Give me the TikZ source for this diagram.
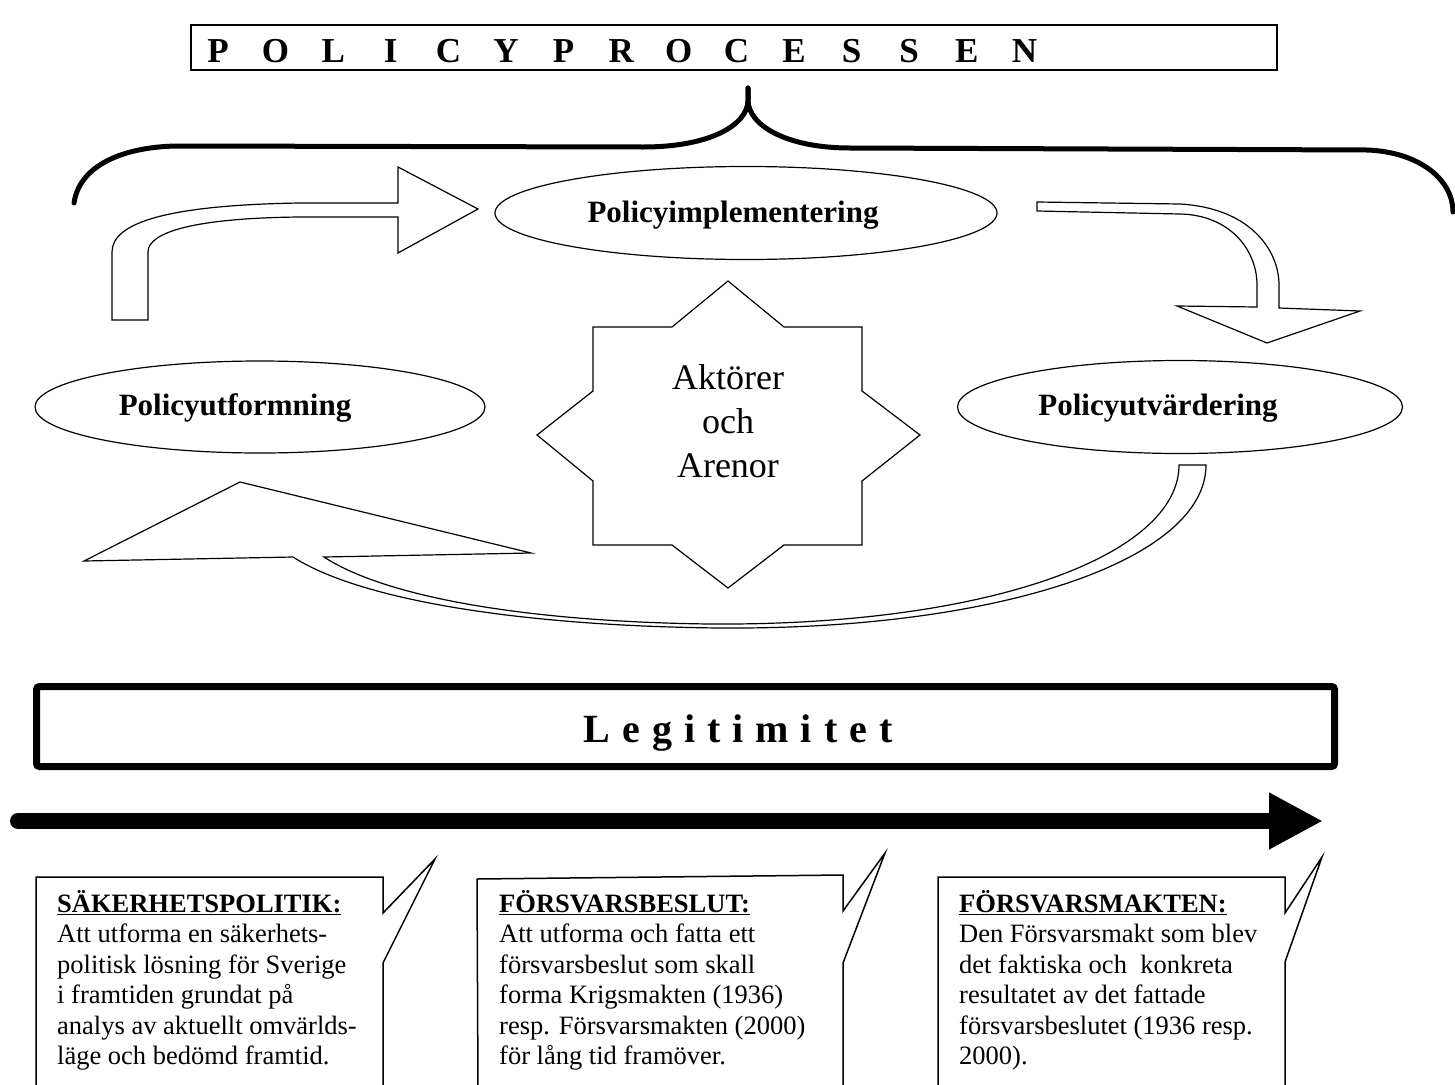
\documentclass[tikz,border=0pt]{standalone}
\usepackage{fontspec}
\setmainfont{Liberation Serif}
\usetikzlibrary{arrows.meta,shapes.geometric}

\tikzset{
  oval/.style={draw, ellipse, line width=1.2pt, inner sep=0pt},
  ovaltext/.style={font=\bfseries\fontsize{31}{31}\selectfont, anchor=base, inner sep=0pt},
  blockarrow/.style={draw, line width=1.2pt, fill=white, line join=miter},
  bubble/.style={draw, line width=1.5pt, line join=miter},
  bubbletext/.style={font=\fontsize{26.5}{30.5}\selectfont, align=left, anchor=base west, inner sep=0pt},
  brace/.style={line width=5pt, line cap=round},
}

\begin{document}
\begin{tikzpicture}[x=1pt, y=-1pt]
\useasboundingbox (0,0) rectangle (1455,1084);

\node[draw, line width=2pt, minimum width=1086pt, minimum height=45pt, inner sep=0pt] (title) at (734,47.5) {};
\foreach \ch [count=\k from 0] in {P,O,L,I,C,Y,P,R,O,C,E,S,S,E,N}
  \node[font=\bfseries\fontsize{35}{35}\selectfont, anchor=base, inner sep=0pt] (t\k) at (218+57.6*\k, 62) {\ch};

\coordinate (bl) at (74,203);
\coordinate (bm) at (748,88);
\coordinate (br) at (1453,212);
\draw[brace] (bl) .. controls (80,162) and (130,146) .. (180,146) -- (643,147) .. controls (710,147) and (748,125) .. (748,100) -- (bm);
\draw[brace] (bm) -- (748,100) .. controls (748,125) and (786,148) .. (850,148) -- (1367,150) .. controls (1420,152) and (1453,180) .. (br);

\node[oval, minimum width=502pt, minimum height=93pt] (impl) at (746,213) {};
\node[ovaltext] (implt) at (733,222) {Policyimplementering};
\node[oval, minimum width=450pt, minimum height=92pt] (form) at (260,407) {};
\node[ovaltext] (formt) at (235,415) {Policyutformning};
\node[oval, minimum width=445pt, minimum height=93pt] (eval) at (1180,407) {};
\node[ovaltext] (evalt) at (1158,415) {Policyutvärdering};

\draw[blockarrow] (112,320) -- (112,252) .. controls (112,222) and (170,205) .. (300,203) -- (398,203) -- (398,167) -- (478,209) -- (398,253) -- (398,217) -- (300,217) .. controls (195,218) and (148,232) .. (148,252) -- (148,320) -- cycle;
\draw[blockarrow] (1037,202) -- (1180,204) .. controls (1250,208) and (1279,250) .. (1279,285) -- (1279,308) -- (1360,311) -- (1267,343) -- (1177,306) -- (1257,307) -- (1257,285) .. controls (1257,250) and (1230,215) .. (1180,214) -- (1037,211) -- cycle;
\draw[blockarrow] (1179,465) -- (1206,465) .. controls (1206,560) and (1000,630) .. (720,628) .. controls (520,626) and (360,600) .. (293,557) -- (84,561) -- (240,482) -- (531,553) -- (324,557) .. controls (390,600) and (540,622) .. (710,624) .. controls (990,626) and (1179,555) .. (1179,465) -- cycle;

\draw[blockarrow] (728,281) -- (784,327) -- (862,327) -- (862,391) -- (920,435) -- (862,481) -- (862,545) -- (784,545) -- (728,588) -- (672,545) -- (593,545) -- (593,481) -- (537,435) -- (593,391) -- (593,327) -- (672,327) -- cycle;
\node[font=\fontsize{36}{44}\selectfont, align=center, inner sep=0pt] (actors) at (728,421) {Aktörer\\och\\Arenor};

\node[draw, line width=7pt, rounded corners=3pt, minimum width=1298pt, minimum height=80pt, inner sep=0pt] (legit) at (685.5,726.5) {};
\node[font=\bfseries\fontsize{40}{40}\selectfont\addfontfeature{LetterSpace=30}, anchor=base, inner sep=0pt] (legitt) at (738,742) {Legitimitet};

\coordinate (tl0) at (18,821);
\coordinate (tl1) at (1323,821);
\draw[line width=16pt, line cap=round, -{Triangle[length=54pt, width=53pt]}] (tl0) -- (tl1);

\draw[bubble] (36,1090) -- (36,877) -- (383,877) -- (383,913) -- (435,859) -- (383,963) -- (383,1090);
\draw[bubble] (478,1090) -- (477,879) -- (843,875) -- (843,911) -- (885,853) -- (843,963) -- (843,1090);
\draw[bubble] (938,1090) -- (938,877) -- (1285,877) -- (1285,913) -- (1322,857) -- (1285,962) -- (1285,1090);

\node[bubbletext] (sec) at (57,1064.5) {\underline{\textbf{SÄKERHETSPOLITIK:}}\\Att utforma en säkerhets-\\politisk lösning för Sverige\\i framtiden grundat på\\analys av aktuellt omvärlds-\\läge och bedömd framtid.};
\node[bubbletext] (dec) at (499,1064.5) {\underline{\textbf{FÖRSVARSBESLUT:}}\\Att utforma och fatta ett\\försvarsbeslut som skall\\forma Krigsmakten (1936)\\resp. Försvarsmakten (2000)\\för lång tid framöver.};
\node[bubbletext] (forces) at (959,1064.5) {\underline{\textbf{FÖRSVARSMAKTEN:}}\\Den Försvarsmakt som blev\\det faktiska och~ konkreta\\resultatet av det fattade\\försvarsbeslutet (1936 resp.\\2000).};
\end{tikzpicture}
\end{document}
